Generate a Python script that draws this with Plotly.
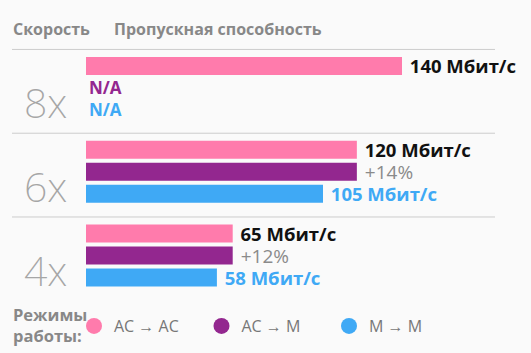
import plotly.graph_objects as go

speeds = ["8x", "6x", "4x"]
ac_ac = [140, 120, 65]
ac_m = [None, 120, 65]
m_m = [None, 105, 58]
series_names = ["AC → AC", "AC → M", "M → M"]
colors = ["#FF7BAC", "#93278F", "#3FA9F5"]
unit = "Мбит/с"

NB = "\u00a0"
FONT = "Open Sans"

def xval(v):
    return 0 if v is None else v

pink_text = [f"{NB}{v} {unit}" for v in ac_ac]
purple_text = []
for a, b in zip(ac_m, m_m):
    if a is None or b is None:
        purple_text.append("N/A")
    else:
        purple_text.append(f"{NB}+{round((a / b - 1) * 100)}%")
blue_text = ["N/A" if v is None else f"{NB}{v} {unit}" for v in m_m]

fig = go.Figure()
fig.add_trace(go.Bar(
    y=speeds, x=[xval(v) for v in ac_ac], orientation="h",
    marker=dict(color=colors[0], line=dict(width=0)),
    text=pink_text, textposition="outside", constraintext="none", cliponaxis=False,
    textfont=dict(family=FONT, size=18.5, color="#111111", weight=700),
    showlegend=False, hoverinfo="skip"))
fig.add_trace(go.Bar(
    y=speeds, x=[xval(v) for v in ac_m], orientation="h",
    marker=dict(color=colors[1], line=dict(width=0)),
    text=purple_text, textposition="outside", constraintext="none", cliponaxis=False,
    textfont=dict(family=FONT,
                  size=[17 if t == "N/A" else 19 for t in purple_text],
                  color=[colors[1] if t == "N/A" else "#8A8A8A" for t in purple_text],
                  weight=[700 if t == "N/A" else 400 for t in purple_text]),
    showlegend=False, hoverinfo="skip"))
fig.add_trace(go.Bar(
    y=speeds, x=[xval(v) for v in m_m], orientation="h",
    marker=dict(color=colors[2], line=dict(width=0)),
    text=blue_text, textposition="outside", constraintext="none", cliponaxis=False,
    textfont=dict(family=FONT, size=[17 if t == "N/A" else 18.5 for t in blue_text],
                  color=colors[2], weight=700),
    showlegend=False, hoverinfo="skip"))

ARROW = '<span style="font-family:Liberation Sans">→</span>'
for name, c in zip(series_names, colors):
    fig.add_trace(go.Scatter(x=[None], y=[None], mode="markers",
                             name=name.replace("→", ARROW),
                             marker=dict(color=c, size=16, symbol="circle"),
                             showlegend=True, hoverinfo="skip"))

W, H = 531, 353
k = 316 / 140
x0px = 86

shapes = []
for i in range(len(speeds) + 1):
    shapes.append(dict(type="line", xref="paper", yref="y",
                       x0=12 / W, x1=495 / W, y0=i - 0.5 + 0.04, y1=i - 0.5 + 0.04,
                       line=dict(color="#CCCCCC", width=1)))

annotations = [
    dict(text="Скорость", xref="paper", yref="paper", x=11 / W, y=1 - 29 / H,
         xanchor="left", yanchor="middle", showarrow=False,
         font=dict(family=FONT, size=16, color="#888888", weight=700)),
    dict(text="Пропускная способность", xref="paper", yref="paper", x=112 / W, y=1 - 29 / H,
         xanchor="left", yanchor="middle", showarrow=False,
         font=dict(family=FONT, size=16, color="#888888", weight=700)),
    dict(text="Режимы<br>работы:", xref="paper", yref="paper", x=11 / W, y=1 - 325 / H,
         xanchor="left", yanchor="middle", showarrow=False, align="left",
         font=dict(family=FONT, size=16.5, color="#888888", weight=700)),
]
for s in speeds:
    annotations.append(dict(text=s, xref="paper", yref="y", x=45 / W, y=s,
                            xanchor="center", yanchor="middle", yshift=-14, showarrow=False,
                            font=dict(family="Noto Sans", size=41, color="#A6A6A6", weight=200)))

fig.update_layout(
    width=W, height=H,
    margin=dict(l=0, r=0, t=0, b=0),
    paper_bgcolor="#FAFAFA", plot_bgcolor="#FAFAFA",
    barmode="group", bargap=0.212, bargroupgap=0.18,
    xaxis=dict(range=[-x0px / k, (W - x0px) / k], visible=False, fixedrange=True),
    yaxis=dict(type="category", categoryarray=speeds, range=[2.5, -0.5],
               domain=[1 - 297.4 / H, 1 - 46.1 / H], visible=False, fixedrange=True),
    shapes=shapes,
    annotations=annotations,
    legend=dict(orientation="h", x=74 / W, xanchor="left", y=1 - 326 / H, yanchor="middle",
                bgcolor="rgba(0,0,0,0)", entrywidth=82.5, entrywidthmode="pixels",
                font=dict(family=FONT, size=16, color="#777777")),
    font=dict(family=FONT),
)

fig.write_html("out.html")
